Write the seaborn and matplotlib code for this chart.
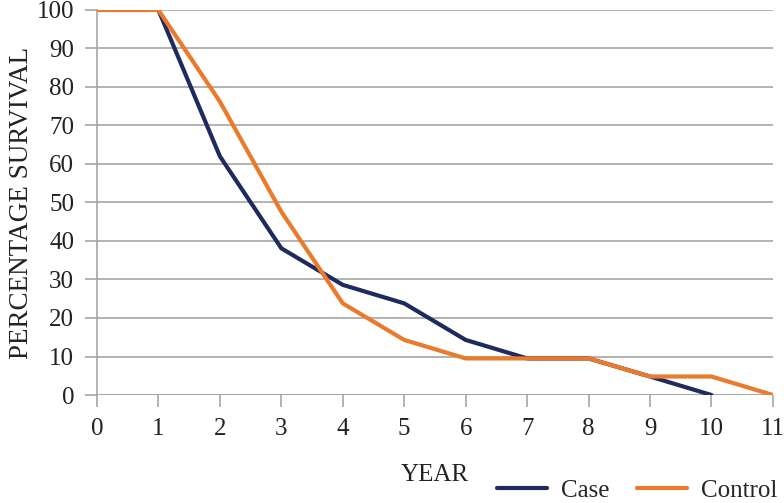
import numpy as np
import pandas as pd
import matplotlib
matplotlib.use("Agg")
import matplotlib.pyplot as plt
import seaborn as sns

# survival data
years_case = [0, 1, 2, 3, 4, 5, 6, 7, 8, 9, 10]
case = [100, 100, 62, 38.1, 28.6, 23.8, 14.3, 9.5, 9.5, 4.8, 0]
years_control = [0, 1, 2, 3, 4, 5, 6, 7, 8, 9, 10, 11]
control = [100, 100, 76.2, 47.6, 23.8, 14.3, 9.5, 9.5, 9.5, 4.8, 4.8, 0]
y_ticks = list(range(0, 101, 10))
x_ticks = list(range(0, 12))

df = pd.concat([
    pd.DataFrame({"Year": years_case, "Survival": case, "Group": "Case"}),
    pd.DataFrame({"Year": years_control, "Survival": control, "Group": "Control"}),
])

sns.set_style("white")
plt.rcParams["font.family"] = ["Liberation Serif", "DejaVu Serif"]

FS = 18
grid_col = "#a6a6a6"
text_col = "#222222"

fig = plt.figure(figsize=(7.84, 5.03), dpi=100)
ax = fig.add_axes([0.1237, 0.2147, 0.8622, 0.7655])

palette = {"Case": "#1f2a5e", "Control": "#ea7a2c"}
sns.lineplot(data=df, x="Year", y="Survival", hue="Group", palette=palette,
             linewidth=3, ax=ax, legend=False, zorder=3)

ax.set_xlim(0, 11)
ax.set_ylim(0, 100)
ax.set_yticks(y_ticks)
ax.set_xticks(x_ticks)
ax.yaxis.grid(True, color=grid_col, linewidth=1.2)
ax.xaxis.grid(False)
for s in ["top", "right", "bottom"]:
    ax.spines[s].set_visible(False)
ax.spines["left"].set_color(grid_col)
ax.spines["left"].set_linewidth(1.2)
ax.axhline(0, color=grid_col, linewidth=1.2, zorder=1)
ax.tick_params(axis="x", direction="out", length=8.5, width=1.2, color=grid_col,
               labelsize=FS, pad=8, bottom=True)
ax.tick_params(axis="y", direction="out", length=8.5, width=1.2, color=grid_col,
               labelsize=FS, pad=8, left=True)
for lbl in ax.get_xticklabels() + ax.get_yticklabels():
    lbl.set_color(text_col)

ax.set_xlabel("YEAR", fontsize=FS, color=text_col, labelpad=17)
ax.set_ylabel("PERCENTAGE SURVIVAL", fontsize=19.5, color=text_col, labelpad=2)

handles = [plt.Line2D([], [], color=palette["Case"], linewidth=3),
           plt.Line2D([], [], color=palette["Control"], linewidth=3)]
fig.legend(handles, ["Case", "Control"], loc="center left",
           bbox_to_anchor=(0.634, 0.024), ncol=2, frameon=False,
           fontsize=FS, handlelength=2.0, columnspacing=1.1, handletextpad=0.55,
           borderpad=0, borderaxespad=0)

fig.savefig("out.png", dpi=100)
